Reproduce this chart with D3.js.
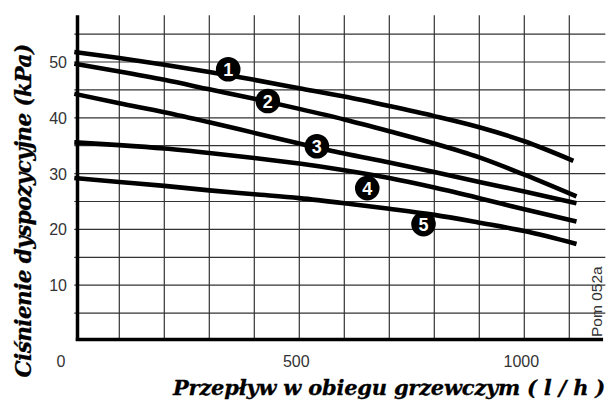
<!DOCTYPE html>
<html><head><meta charset="utf-8">
<script src="https://cdn.jsdelivr.net/npm/d3@7/dist/d3.min.js"></script>
<style>body{margin:0;background:#fff}</style>
</head><body><svg id="c" width="613" height="403"></svg>
<script>
// Data
const seriesNames = ["1","2","3","4","5"];
const flow1 = [0,100,200,300,400,500,600,700,800,900,1000,1109];
const pres1 = [51.8,50.7,49.5,48.2,46.8,45.3,43.8,42.1,40.3,38.3,35.8,32.3];
const flow2 = [0,100,200,300,400,500,600,700,800,900,1000,1116];
const pres2 = [49.7,48.3,46.8,45.1,43.4,41.6,39.7,37.6,35.4,32.9,29.8,25.9];
const flow3 = [0,100,200,300,400,500,600,700,800,900,1000,1116];
const pres3 = [44.3,42.6,41.0,39.2,37.3,35.4,33.6,32.0,30.3,28.5,26.8,24.7];
const flow4 = [0,100,200,300,400,500,600,700,800,900,1000,1116];
const pres4 = [35.6,35.1,34.5,33.7,32.8,31.8,30.6,29.2,27.5,25.6,23.6,21.4];
const flow5 = [0,100,200,300,400,500,600,700,800,900,1000,1116];
const pres5 = [29.2,28.5,27.8,27.0,26.3,25.6,24.7,23.7,22.6,21.2,19.7,17.4];
// badge (marker label) locations in data units
const badgeFlow = [342,430,539,651,776];
const badgePres = [48.7,43.0,34.9,27.4,20.95];
const xTickLabels = [500,1000];
const yTickLabels = [10,20,30,40,50];
const xGrid = [100,200,300,400,500,600,700,800,900,1000,1100];
const yGrid = [5,10,15,20,25,30,35,40,45,50,55];
const xTitle = "Przepływ w obiegu grzewczym ( l / h )";
const yTitle = "Ciśnienie dyspozycyjne (kPa)";
const codeText = "Pom 052a";

const svg = d3.select("#c");
const x = d3.scaleLinear().domain([0,1180]).range([74.3, 74.3+1180*0.45]);
const y = d3.scaleLinear().domain([0,58.4]).range([341, 341-58.4*5.58]);

const flows=[flow1,flow2,flow3,flow4,flow5];
const pres=[pres1,pres2,pres3,pres4,pres5];
const series = seriesNames.map((n,i)=>({name:n, pts: flows[i].map((f,j)=>[f,pres[i][j]])}));

// grid
const g = svg.append("g");
g.selectAll(".vg").data(xGrid).join("line")
  .attr("x1",d=>x(d)).attr("x2",d=>x(d)).attr("y1",y(58.4)).attr("y2",y(0))
  .attr("stroke","#333").attr("stroke-width",1.2);
g.selectAll(".hg").data(yGrid).join("line")
  .attr("x1",x(0)).attr("x2",x(1180)).attr("y1",d=>y(d)).attr("y2",d=>y(d))
  .attr("stroke","#333").attr("stroke-width",1.2);

// axes lines
svg.append("line").attr("x1",x(0)+3.2).attr("x2",x(0)+3.2).attr("y1",y(58.4)).attr("y2",y(0))
  .attr("stroke","#000").attr("stroke-width",3.5);
svg.append("line").attr("x1",x(0)+1.5).attr("x2",x(1175)).attr("y1",y(0)-1.6).attr("y2",y(0)-1.6)
  .attr("stroke","#000").attr("stroke-width",3.5);

// tick labels
svg.selectAll(".yl").data(yTickLabels).join("text")
  .attr("x",67).attr("y",d=>y(d)+6).attr("text-anchor","end")
  .attr("font-family","Liberation Sans, Arial, sans-serif").attr("font-size",16).attr("fill","#333")
  .text(d=>d);
svg.selectAll(".xl").data(xTickLabels).join("text")
  .attr("x",d=>x(d)-3).attr("y",367).attr("text-anchor","middle")
  .attr("font-family","Liberation Sans, Arial, sans-serif").attr("font-size",16).attr("fill","#333")
  .text(d=>d);
svg.append("text").attr("x",61).attr("y",367).attr("text-anchor","middle")
  .attr("font-family","Liberation Sans, Arial, sans-serif").attr("font-size",16).attr("fill","#333")
  .text("0");

// curves
const line = d3.line().x(d=>x(d[0])).y(d=>y(d[1])).curve(d3.curveMonotoneX);
svg.selectAll(".curve").data(series).join("path")
  .attr("d",d=>line(d.pts)).attr("fill","none").attr("stroke","#000").attr("stroke-width",4.6);

// badges
const bg = svg.selectAll(".badge").data(seriesNames).join("g")
  .attr("transform",(d,i)=>`translate(${x(badgeFlow[i])},${y(badgePres[i])})`);
bg.append("circle").attr("r",12.3).attr("fill","#000");
bg.append("text").attr("text-anchor","middle").attr("y",6.5)
  .attr("font-family","Liberation Sans, Arial, sans-serif").attr("font-weight","bold")
  .attr("font-size",18).attr("fill","#fff").text(d=>d);

// titles: larger font, letter spacing tightened to measured widths
function fitSpacing(sel, target, text){
  const w = sel.node().getComputedTextLength();
  const ls = (target - w) / text.length;
  sel.attr("letter-spacing", ls);
}
const serifFam = "'DejaVu Serif', serif";
const xt = svg.append("text").attr("x",389).attr("y",395).attr("text-anchor","middle")
  .attr("font-family",serifFam).attr("font-style","italic").attr("font-weight","bold")
  .attr("font-size",21).attr("fill","#000").attr("stroke","#000").attr("stroke-width",0.3)
  .text(xTitle);
fitSpacing(xt,432,xTitle);
const yt = svg.append("text").attr("transform","translate(31,211) rotate(-90)").attr("text-anchor","middle")
  .attr("font-family",serifFam).attr("font-style","italic").attr("font-weight","bold")
  .attr("font-size",21.5).attr("fill","#000").attr("stroke","#000").attr("stroke-width",0.3)
  .text(yTitle);
fitSpacing(yt,333,yTitle);

svg.append("text").attr("transform","translate(602,337) rotate(-90)")
  .attr("font-family","Liberation Sans, Arial, sans-serif").attr("font-size",15.5).attr("fill","#333")
  .text(codeText);
</script></body></html>
